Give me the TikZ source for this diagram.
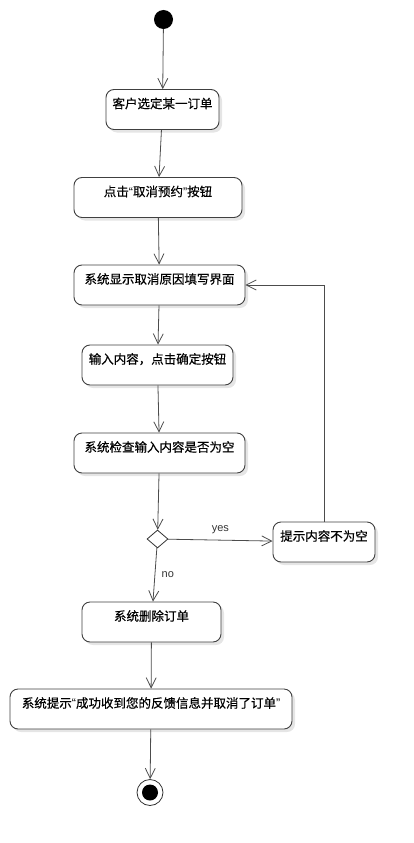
\documentclass[tikz,border=0pt]{standalone}
\usepackage{fontspec}
\setmainfont{Liberation Sans}
\newfontfamily\cjk{Noto Sans CJK SC}[FakeBold=0.4]
\usetikzlibrary{arrows.meta,shapes.geometric,shadows}
\newcommand{\oq}{{\rmfamily “}}
\newcommand{\cq}{{\rmfamily ”}}
\tikzset{
  act/.style={draw=black!75, line width=0.9pt, fill=white, rounded corners=8pt,
    font=\cjk\fontsize{12.5}{15}\selectfont, inner xsep=2pt, inner ysep=4pt,
    text height=14.75pt, text depth=17.25pt,
    drop shadow={shadow xshift=3pt, shadow yshift=-3pt, opacity=.1, fill=black}},
  flow/.style={draw=black!70, line width=0.8pt, -{Straight Barb[length=10pt,width=10pt]}},
  guard/.style={font=\fontsize{11}{13}\selectfont, text=black!80}
}
\begin{document}
\begin{tikzpicture}[x=1pt,y=-1pt]
  \useasboundingbox (0,0) rectangle (414,843);
  \node[circle, fill=black, minimum size=19pt, inner sep=0pt] (start) at (163.5,19.5) {};
  \node[act, minimum width=113pt] (pick) at (162.5,109.5) {客户选定某一订单};
  \node[act, minimum width=168pt] (cancel) at (158,197.5) {点击\oq 取消预约\cq 按钮};
  \node[act, minimum width=171pt] (form) at (159.5,285) {系统显示取消原因填写界面};
  \node[act, minimum width=151pt] (input) at (157.5,365) {输入内容，点击确定按钮};
  \node[act, minimum width=171pt] (check) at (159.5,453) {系统检查输入内容是否为空};
  \node[diamond, draw=black!80, line width=0.8pt, fill=white, minimum width=21pt,
    minimum height=18pt, inner sep=0pt] (empty) at (157.5,539) {};
  \node[act, minimum width=102pt] (hint) at (324,542) {提示内容不为空};
  \node[act, minimum width=139pt] (delete) at (151.5,622) {系统删除订单};
  \node[act, minimum width=282pt] (done) at (151,709) {系统提示\oq 成功收到您的反馈信息并取消了订单\cq};
  \node[circle, draw=black!80, line width=0.8pt, fill=white, minimum size=26pt, inner sep=0pt] (stop) at (150,792.5) {};
  \fill[black] (stop.center) circle (8pt);

  \draw[flow] (start) -- (pick);
  \draw[flow] (pick) -- (cancel);
  \draw[flow] (cancel) -- (form);
  \draw[flow] (form) -- (input);
  \draw[flow] (input) -- (check);
  \draw[flow] (check) -- (empty);
  \draw[flow] (empty) -- node[guard, above=3pt] {yes} (hint);
  \draw[flow] (empty) -- node[guard, right=3pt] {no} (delete);
  \draw[flow] (hint.north) |- (form.east);
  \draw[flow] (delete) -- (done);
  \draw[flow] (done) -- (stop);
\end{tikzpicture}
\end{document}
